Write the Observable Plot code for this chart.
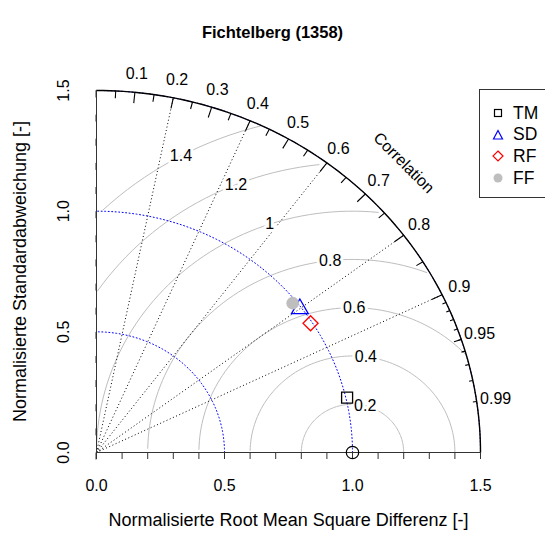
<!DOCTYPE html>
<html><head><meta charset="utf-8">
<script src="https://cdn.jsdelivr.net/npm/d3@7"></script>
<script src="https://cdn.jsdelivr.net/npm/@observablehq/plot@0.6"></script>
<style>
body{margin:0;width:545px;height:540px;overflow:hidden;background:#fff;position:relative;font-family:"Liberation Sans",Arial,sans-serif}
#title{position:absolute;left:0;top:22px;width:545px;text-align:center;font-weight:bold;font-size:16.5px;line-height:20px;color:#000}
#chart{position:absolute;left:0;top:50px}
#legend{position:absolute;left:479px;top:89px;width:90px;height:109px;border:1px solid #333;background:#fff;box-sizing:border-box}
.row{position:absolute;left:0;height:20px;display:flex;align-items:center;font-size:17.5px;color:#000}
.row svg{margin-left:12px;margin-right:9px}
</style></head><body>
<div id="title">Fichtelberg (1358)</div>
<div id="chart"></div>
<div id="legend"></div>
<script>
// ---- data ----
const models = ["TM", "SD", "RF", "FF"];
const stdev  = [1.005, 0.993, 0.993, 0.985];   // normalised standard deviation
const corr   = [0.974, 0.800, 0.842, 0.778];   // correlation with reference
const refSd = 1.0, refCorr = 1.0;
const gammaLevels = [0.2, 0.4, 0.6, 0.8, 1, 1.2, 1.4];
const gammaLabelAngle = [1.32, 1.44, 1.56, 1.68, 1.90, 1.96, 2.07]; // radians around the reference point
const corrRays = [0.2, 0.4, 0.6, 0.8, 0.9];
const bigTicks = [0.1, 0.2, 0.3, 0.4, 0.5, 0.6, 0.7, 0.8, 0.9];
const medTicks = [0.05, 0.15, 0.25, 0.35, 0.45, 0.55, 0.65, 0.75, 0.85, 0.95];
const smlTicks = [0.91, 0.92, 0.93, 0.94, 0.95, 0.96, 0.97, 0.98, 0.99];
const corrLabels = [0.1, 0.2, 0.3, 0.4, 0.5, 0.6, 0.7, 0.8, 0.9, 0.95, 0.99];
const sdArcs = [0.5, 1.0, 1.5];
const axisLabels = [0, 0.5, 1.0, 1.5];
const axisTicks = [0, 0.1, 0.2, 0.3, 0.4, 0.5, 0.6, 0.7, 0.8, 0.9, 1.0, 1.1, 1.2, 1.3, 1.4, 1.5];
const maxSd = 1.5;

// ---- style ----
const symbolOf = {TM: "square2", SD: "triangle2", RF: "diamond2", FF: "circle"};
const colorOf  = {TM: "#000000", SD: "#0000ff", RF: "#ff0000", FF: "#bebebe"};
const sizeOf   = {TM: 7, SD: 8, RF: 6.8, FF: 6.3};

const pts = models.map((m, i) => ({
  model: m, x: stdev[i] * corr[i], y: stdev[i] * Math.sqrt(1 - corr[i] * corr[i])
}));
const refPt = [{x: refSd * refCorr, y: refSd * Math.sqrt(1 - refCorr * refCorr)}];

// arcs around origin
const arcPts = r => d3.range(0, 91).map(i => {
  const t = (Math.PI / 2) * i / 90; return {r, x: r * Math.cos(t), y: r * Math.sin(t)};
});
const sdArcData = sdArcs.flatMap(arcPts);
const outerArc = arcPts(maxSd);

// centred RMS curves (theta step 0.03, clipped at outer arc and y axis)
const theta = d3.range(0, Math.PI, 0.03);
const gammaCurves = [];
gammaLevels.forEach(g => {
  const c = theta.map(t => ({g, x: refSd + g * Math.cos(t), y: g * Math.sin(t)}));
  let end = c.findIndex(p => p.x < 0); end = end >= 0 ? end - 1 : c.length - 1;
  let start = -1; c.forEach((p, k) => { if (p.x * p.x + p.y * p.y > maxSd * maxSd) start = k; });
  start = start + 1;
  gammaCurves.push(...c.slice(start, end + 1));
});
const gammaText = gammaLevels.map((g, i) => ({
  g, x: refSd + g * Math.cos(gammaLabelAngle[i]), y: g * Math.sin(gammaLabelAngle[i])
}));

const rayLink = (list, inner) => list.map(c => {
  const a = Math.acos(c);
  return {x1: inner * maxSd * Math.cos(a), y1: inner * maxSd * Math.sin(a), x2: maxSd * Math.cos(a), y2: maxSd * Math.sin(a)};
});
const corrText = corrLabels.map(c => {
  const a = Math.acos(c);
  return {c, x: 1.05 * maxSd * Math.cos(a), y: 1.05 * maxSd * Math.sin(a)};
});

const font = "Liberation Sans, Arial, sans-serif";
const fs = 16;
const fsTitle = 18;

const plot = Plot.plot({
  width: 545, height: 490,
  marginLeft: 96, marginRight: 65, marginTop: 40, marginBottom: 88,
  x: {domain: [0, 1.5]}, y: {domain: [0, 1.5]},
  style: {fontFamily: font, fontSize: fs + "px", background: "transparent"},
  marks: [
    Plot.line(gammaCurves, {x: "x", y: "y", z: "g", stroke: "#bebebe", strokeWidth: 1, curve: "linear"}),
    Plot.line(sdArcData, {x: "x", y: "y", z: "r", stroke: "#0000ff", strokeWidth: 1, strokeDasharray: "1,2.5"}),
    Plot.link(rayLink(corrRays, 0), {x1: "x1", y1: "y1", x2: "x2", y2: "y2", stroke: "#000", strokeWidth: 1, strokeDasharray: "1,2.5"}),
    Plot.line(outerArc, {x: "x", y: "y", stroke: "#000", strokeWidth: 1.4}),
    Plot.link(rayLink(bigTicks, 0.97), {x1: "x1", y1: "y1", x2: "x2", y2: "y2", stroke: "#000", strokeWidth: 1.1}),
    Plot.link(rayLink(medTicks, 0.98), {x1: "x1", y1: "y1", x2: "x2", y2: "y2", stroke: "#000", strokeWidth: 1.1}),
    Plot.link(rayLink(smlTicks, 0.99), {x1: "x1", y1: "y1", x2: "x2", y2: "y2", stroke: "#000", strokeWidth: 1.1}),
    Plot.text(corrText, {x: "x", y: "y", text: d => String(d.c), fontSize: fs, fill: "#000"}),
    Plot.text(["Correlation"], {x: [0.8 * maxSd], y: [0.8 * maxSd], rotate: 45, fontSize: fs, fill: "#000"}),
    Plot.text(gammaText, {x: "x", y: "y", text: d => String(d.g), fontSize: fs, fill: "#000", stroke: "#fff", strokeWidth: 6, paintOrder: "stroke"}),
    // axes
    Plot.ruleY([0], {x1: 0, x2: 1.5, stroke: "#333"}),
    Plot.ruleX([0], {y1: 0, y2: 1.5, stroke: "#333"}),
    Plot.axisX({ticks: axisTicks, tickSize: 7, tickPadding: 20, stroke: "#333", fontSize: fs,
      tickFormat: d => axisLabels.some(v => Math.abs(v - d) < 1e-9) ? d.toFixed(1) : ""}),
    Plot.axisY({ticks: axisTicks, tickSize: 7, tickPadding: 26, stroke: "#333", fontSize: fs, rotate: -90, textAnchor: "middle",
      tickFormat: d => axisLabels.some(v => Math.abs(v - d) < 1e-9) ? d.toFixed(1) : ""}),
    Plot.text(["Normalisierte Root Mean Square Differenz [-]"], {frameAnchor: "bottom", dy: 73, fontSize: fsTitle, fill: "#000", textAnchor: "middle"}),
    Plot.text(["Normalisierte Standardabweichung [-]"], {frameAnchor: "left", dx: -76, rotate: -90, fontSize: fsTitle, fill: "#000", textAnchor: "middle"}),
    // points
    Plot.dot(refPt, {x: "x", y: "y", r: 6.2, stroke: "#000", strokeWidth: 1.2, fill: "none"}),
    ...models.map(m => Plot.dot(pts.filter(p => p.model === m), {
      x: "x", y: "y", r: sizeOf[m], symbol: symbolOf[m],
      stroke: m === "FF" ? "none" : colorOf[m], fill: m === "FF" ? colorOf[m] : "none", strokeWidth: 1.3
    }))
  ]
});
document.getElementById("chart").appendChild(plot);

// legend
const lg = document.getElementById("legend");
const symSvg = {
  TM: '<rect x="2.5" y="2.5" width="7" height="7" fill="none" stroke="#000" stroke-width="1.2"/>',
  SD: '<path d="M6,1.5 L10.5,10 L1.5,10 Z" fill="none" stroke="#0000ff" stroke-width="1.2"/>',
  RF: '<path d="M6,1 L11,6 L6,11 L1,6 Z" fill="none" stroke="#ff0000" stroke-width="1.2"/>',
  FF: '<circle cx="6" cy="6" r="4.5" fill="#bebebe"/>'
};
models.forEach((m, i) => {
  const row = document.createElement("div");
  row.className = "row";
  row.style.top = (13 + i * 21.7) + "px";
  row.innerHTML = '<svg width="12" height="12">' + symSvg[m] + '</svg><span>' + m + '</span>';
  lg.appendChild(row);
});
</script>
</body></html>
